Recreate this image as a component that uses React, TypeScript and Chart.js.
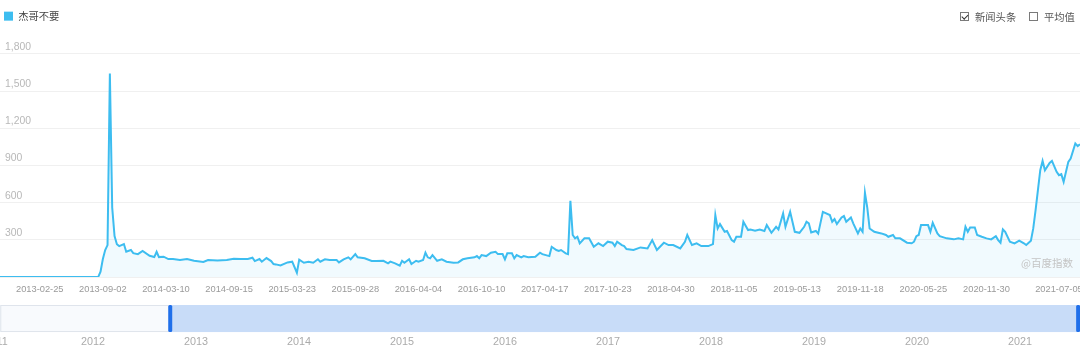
import React, { useEffect, useRef } from 'react';
import { Chart, registerables } from 'chart.js';

Chart.register(...registerables);

// ---------- data ----------
const SERIES_NAME = '杰哥不要';
const START_DATE = '2012-10-29'; // week index 0
const LAST_WEEK = 462;

// week index (weeks since START_DATE) of each sampled point
const weeks = [
  0, 42, 43, 44, 45, 46, 47, 48, 49, 50,
  51, 53, 54, 56, 57, 59, 61, 64, 66, 67,
  68, 70, 72, 74, 77, 80, 83, 87, 89, 93,
  97, 100, 103, 106, 108, 109, 111, 112, 114, 116,
  117, 118, 120, 123, 125, 127, 128, 130, 132, 134,
  136, 137, 139, 141, 144, 145, 147, 149, 150, 152,
  153, 156, 159, 161, 164, 166, 167, 169, 171, 172,
  173, 175, 176, 178, 179, 181, 182, 183, 184, 185,
  187, 189, 191, 194, 196, 198, 200, 203, 204, 205,
  206, 208, 210, 212, 213, 215, 216, 217, 219, 220,
  221, 223, 224, 226, 229, 231, 232, 235, 236, 238,
  239, 240, 242, 243, 244, 245, 246, 247, 248, 250,
  252, 254, 256, 258, 260, 262, 263, 264, 266, 267,
  268, 271, 274, 277, 279, 281, 284, 286, 288, 291,
  293, 294, 296, 298, 300, 303, 305, 306, 307, 308,
  310, 311, 313, 314, 315, 317, 318, 320, 321, 323,
  325, 327, 328, 330, 332, 333, 335, 336, 338, 340,
  342, 344, 345, 346, 347, 349, 350, 352, 355, 356,
  357, 358, 360, 361, 362, 364, 365, 367, 368, 369,
  370, 371, 372, 374, 377, 379, 380, 382, 383, 385,
  388, 390, 391, 392, 393, 394, 397, 398, 399, 401,
  402, 405, 408, 410, 412, 413, 414, 415, 417, 418,
  420, 422, 424, 426, 427, 428, 429, 430, 432, 434,
  436, 438, 439, 441, 442, 443, 444, 445, 446, 447,
  449, 450, 452, 453, 454, 455, 457, 458, 460, 461, 462,
];

// search index value at each sampled week
const values = [
  0, 0, 43, 145, 218, 258, 1642, 560, 330, 265,
  250, 266, 204, 218, 193, 185, 210, 172, 161, 204,
  161, 164, 145, 145, 137, 145, 131, 121, 137, 134,
  137, 148, 145, 145, 156, 129, 145, 124, 153, 129,
  105, 102, 93, 118, 124, 35, 140, 115, 124, 115,
  143, 124, 143, 137, 137, 118, 143, 159, 143, 185,
  159, 151, 129, 129, 131, 110, 124, 110, 91, 131,
  115, 143, 105, 131, 124, 137, 196, 159, 151, 177,
  131, 143, 124, 115, 118, 143, 151, 159, 169, 151,
  177, 169, 196, 204, 185, 185, 143, 191, 191, 151,
  177, 159, 169, 159, 164, 196, 185, 169, 244, 218,
  210, 218, 191, 185, 615, 339, 312, 325, 272, 312,
  312, 244, 272, 250, 285, 277, 250, 285, 258, 250,
  226, 218, 239, 231, 298, 218, 277, 258, 258, 231,
  285, 339, 258, 272, 250, 250, 266, 500, 392, 427,
  365, 371, 298, 285, 325, 325, 446, 379, 384, 373,
  384, 371, 419, 357, 405, 384, 513, 405, 526, 365,
  357, 405, 446, 433, 360, 372, 350, 526, 500, 446,
  468, 427, 481, 492, 446, 481, 433, 352, 392, 365,
  680, 560, 392, 365, 352, 339, 325, 339, 312, 312,
  277, 272, 285, 330, 339, 419, 419, 365, 438, 352,
  330, 312, 304, 312, 304, 405, 365, 400, 400, 339,
  325, 312, 304, 330, 298, 277, 384, 365, 285, 272,
  293, 272, 258, 293, 392, 540, 701, 862, 937, 862,
  921, 937, 849, 822, 830, 768, 929, 956, 1078, 1056, 1072,
];

const xTickLabels = [
  '2013-02-25', '2013-09-02', '2014-03-10', '2014-09-15', '2015-03-23',
  '2015-09-28', '2016-04-04', '2016-10-10', '2017-04-17', '2017-10-23',
  '2018-04-30', '2018-11-05', '2019-05-13', '2019-11-18', '2020-05-25',
  '2020-11-30', '2021-07-05',
];

const Y_MAX = 1800;
const Y_STEP = 300;

// overview slider (years; the first, partly hidden label sits just inside 2011)
const sliderYears = [2011.06, 2012, 2013, 2014, 2015, 2016, 2017, 2018, 2019, 2020, 2021];
const sliderDomain = [2010.709, 2021.583];
const sliderBox = [2011.1, 2021.583];
const sliderWindow = [2012.75, 2021.565];

const toggles = [
  { label: '新闻头条', checked: true },
  { label: '平均值', checked: false },
];
const WATERMARK = '@百度指数';

// ---------- styles ----------
const LINE = '#3dbdf0';
const FILL = 'rgba(61,189,240,0.07)';
const CJK = "'Noto Sans CJK SC', 'Noto Sans', sans-serif";
const NUM = "'Liberation Sans', 'Noto Sans CJK SC', sans-serif";

const weekOf = (d: string) =>
  Math.round((Date.parse(d) - Date.parse(START_DATE)) / 604800000);

export default function App() {
  const mainRef = useRef<HTMLCanvasElement | null>(null);
  const sliderRef = useRef<HTMLCanvasElement | null>(null);

  useEffect(() => {
    const labelMap = new Map<number, string>();
    xTickLabels.forEach((l) => labelMap.set(weekOf(l), l));

    const legendSpacer = {
      id: 'legendSpacer',
      beforeInit(chart: any) {
        const legend = chart.legend;
        if (!legend) return;
        const orig = legend.fit;
        legend.fit = function () {
          orig.call(this);
          this.height += 22.6;
        };
      },
    };

    const main = new Chart(mainRef.current as HTMLCanvasElement, {
      type: 'line',
      data: {
        datasets: [
          {
            label: SERIES_NAME,
            data: weeks.map((w, i) => ({ x: w, y: values[i] })),
            borderColor: LINE,
            backgroundColor: FILL,
            borderWidth: 2,
            pointRadius: 0,
            tension: 0,
            fill: 'origin',
          },
        ],
      },
      options: {
        responsive: false,
        animation: false,
        layout: { padding: { top: 7, left: 0, right: 0, bottom: 0 } },
        plugins: {
          legend: {
            display: true,
            position: 'top',
            align: 'start',
            labels: {
              boxWidth: 9,
              boxHeight: 9,
              padding: 4,
              color: '#444',
              font: { size: 10.3, family: CJK },
              generateLabels: (chart: any) =>
                (Chart.defaults.plugins.legend.labels as any)
                  .generateLabels(chart)
                  .map((it: any) => ({ ...it, fillStyle: LINE, strokeStyle: LINE, lineWidth: 0 })),
            },
          },
          tooltip: { enabled: false },
        },
        scales: {
          x: {
            type: 'linear',
            min: 0,
            max: LAST_WEEK,
            grid: { display: false, drawTicks: false },
            border: { display: false },
            afterBuildTicks: (scale: any) => {
              scale.ticks = xTickLabels.map((l) => ({ value: weekOf(l) }));
            },
            afterFit: (scale: any) => {
              scale.paddingLeft = 0;
              scale.paddingRight = 0;
            },
            ticks: {
              autoSkip: false,
              maxRotation: 0,
              minRotation: 0,
              padding: 6.4,
              color: '#9a9a9a',
              font: { size: 9.3, family: NUM },
              callback: (v: any) => labelMap.get(Math.round(Number(v))) ?? '',
            },
          },
          y: {
            min: 0,
            max: Y_MAX,
            grid: { color: '#f0f0f0', drawTicks: false, lineWidth: 1 },
            border: { display: false },
            afterFit: (scale: any) => {
              scale.width = 0;
            },
            ticks: {
              stepSize: Y_STEP,
              mirror: true,
              padding: 5,
              labelOffset: -7,
              color: '#b8b8b8',
              font: { size: 10.4, family: NUM },
              callback: (v: any) => (Number(v) === 0 ? '' : Number(v).toLocaleString('en-US')),
            },
          },
        },
      } as any,
      plugins: [legendSpacer],
    });

    const sliderDecor = {
      id: 'sliderDecor',
      beforeDraw(chart: any) {
        const { ctx, chartArea: a, scales } = chart;
        const x = scales.x;
        const h = a.bottom - a.top;
        const b0 = x.getPixelForValue(sliderBox[0]);
        const b1 = x.getPixelForValue(sliderBox[1]);
        const w0 = x.getPixelForValue(sliderWindow[0]);
        const w1 = x.getPixelForValue(sliderWindow[1]);
        ctx.save();
        ctx.fillStyle = '#f8fafd';
        ctx.fillRect(b0, a.top, b1 - b0, h);
        ctx.strokeStyle = '#dfe4ec';
        ctx.lineWidth = 1;
        ctx.strokeRect(b0 + 0.5, a.top + 0.5, b1 - b0 - 1, h - 1);
        ctx.fillStyle = '#c8dcf8';
        ctx.fillRect(w0, a.top, w1 - w0, h);
        ctx.fillStyle = '#1f6fea';
        const hw = 4;
        [w0, w1].forEach((p) => {
          ctx.beginPath();
          (ctx as any).roundRect(p - hw / 2, a.top, hw, h, 1.5);
          ctx.fill();
        });
        ctx.restore();
      },
    };

    const slider = new Chart(sliderRef.current as HTMLCanvasElement, {
      type: 'line',
      data: { datasets: [] },
      options: {
        responsive: false,
        animation: false,
        layout: { padding: { top: 5, left: 0, right: 0, bottom: 0 } },
        plugins: { legend: { display: false }, tooltip: { enabled: false } },
        scales: {
          x: {
            type: 'linear',
            min: sliderDomain[0],
            max: sliderDomain[1],
            grid: { display: false, drawTicks: false },
            border: { display: false },
            afterBuildTicks: (scale: any) => {
              scale.ticks = sliderYears.map((y) => ({ value: y }));
            },
            afterFit: (scale: any) => {
              scale.paddingLeft = 0;
              scale.paddingRight = 0;
            },
            ticks: {
              autoSkip: false,
              maxRotation: 0,
              padding: 4,
              color: '#ababab',
              font: { size: 10.8, family: NUM },
              callback: (v: any) => String(Math.floor(Number(v))),
            },
          },
          y: { display: false, min: 0, max: 1 },
        },
      } as any,
      plugins: [sliderDecor],
    });

    return () => {
      main.destroy();
      slider.destroy();
    };
  }, []);

  const toggleX = [960, 1029];

  return (
    <div
      style={{
        position: 'fixed',
        left: 0,
        top: 0,
        width: 1080,
        height: 363,
        overflow: 'hidden',
        background: '#ffffff',
      }}
    >
      <canvas
        ref={mainRef}
        width={1080}
        height={301}
        style={{ position: 'absolute', left: 0, top: 0, width: 1080, height: 301 }}
      />
      <canvas
        ref={sliderRef}
        width={1120}
        height={53}
        style={{ position: 'absolute', left: -40, top: 300, width: 1120, height: 53 }}
      />
      {toggles.map((t, i) => (
        <div
          key={t.label}
          style={{
            position: 'absolute',
            left: toggleX[i],
            top: 10,
            height: 13,
            display: 'flex',
            alignItems: 'center',
            fontFamily: CJK,
            fontSize: 10.3,
            lineHeight: '13px',
            color: '#555',
            whiteSpace: 'nowrap',
          }}
        >
          <span
            style={{
              display: 'inline-block',
              position: 'relative',
              width: 7,
              height: 7,
              border: '1px solid #7a7a7a',
              marginRight: 6,
            }}
          >
            {t.checked && (
              <span
                style={{
                  position: 'absolute',
                  left: 2,
                  top: -0.5,
                  width: 2.5,
                  height: 5,
                  borderRight: '1.3px solid #333',
                  borderBottom: '1.3px solid #333',
                  transform: 'rotate(45deg)',
                }}
              />
            )}
          </span>
          {t.label}
        </div>
      ))}
      <div
        style={{
          position: 'absolute',
          left: 1021,
          top: 257,
          fontFamily: CJK,
          fontSize: 10.5,
          lineHeight: '12px',
          color: '#c4c4c4',
          whiteSpace: 'nowrap',
        }}
      >
        {WATERMARK}
      </div>
    </div>
  );
}
